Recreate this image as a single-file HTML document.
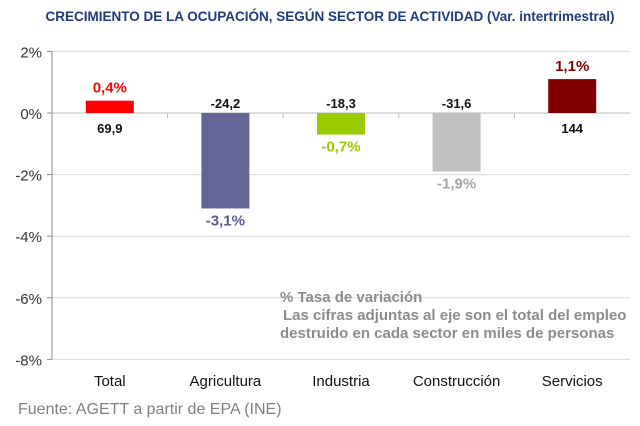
<!DOCTYPE html>
<html><head><meta charset="utf-8"><style>
body{margin:0;background:#fff;width:640px;height:421px;overflow:hidden;font-family:"Liberation Sans",sans-serif}
</style></head><body>
<svg width="640" height="421" font-family="Liberation Sans, sans-serif">
<text x="330" y="21" text-anchor="middle" font-size="13.5" font-weight="bold" fill="#1f3a7a">CRECIMIENTO DE LA OCUPACIÓN, SEGÚN SECTOR DE ACTIVIDAD (Var. intertrimestral)</text>
<g id="grid"></g><g id="bars"></g><g id="labels"></g>
<text x="280" y="302" font-size="15" font-weight="bold" fill="#8c8c8c">% Tasa de variación</text>
<text x="283" y="320" font-size="15" font-weight="bold" fill="#8c8c8c">Las cifras adjuntas al eje son el total del empleo</text>
<text x="280" y="338" font-size="15" font-weight="bold" fill="#8c8c8c">destruido en cada sector en miles de personas</text>
<text x="18" y="414" font-size="16" fill="#7f7f7f">Fuente: AGETT a partir de EPA (INE)</text>
</svg>
<script>
const categories=["Total","Agricultura","Industria","Construcción","Servicios"];
const values=[0.4,-3.1,-0.7,-1.9,1.1];
const valueLabels=["0,4%","-3,1%","-0,7%","-1,9%","1,1%"];
const employment=["69,9","-24,2","-18,3","-31,6","144"];
const ticks=[2,0,-2,-4,-6,-8];
const colors=["#ff0000","#646496","#99cc00","#c0c0c0","#800000"];
const labelColors=["#ff0000","#5a5a96","#99cc00","#a6a6a6","#800000"];
const NS="http://www.w3.org/2000/svg";
const x0=52,x1=630,bw=(x1-x0)/categories.length;
const y=v=>113-v*30.8;
const xc=i=>x0+bw*(i+0.5);
function mk(t,a,p,txt){const e=document.createElementNS(NS,t);for(const k in a)e.setAttribute(k,a[k]);if(txt!==undefined)e.textContent=txt;document.getElementById(p).appendChild(e);return e;}
ticks.forEach(t=>{
const g=mk("line",{x1:x0,x2:x1,y1:y(t),y2:y(t),stroke:"#d9d9d9","stroke-width":1},"grid");


const tk=mk("line",{x1:x0-5,x2:x0,y1:y(t),y2:y(t),stroke:"#888"},"grid");


const l=mk("text",{x:x0-10,y:y(t)+6,"text-anchor":"end","font-size":"15",fill:"#333"},"grid",t+"%");


});
const ax=mk("line",{x1:x0,x2:x0,y1:y(2),y2:y(-8),stroke:"#888"},"grid");


const zx=mk("line",{x1:x0,x2:x1,y1:y(0),y2:y(0),stroke:"#bbb"},"grid");


categories.forEach((c,i)=>{
const v=values[i];
const r=mk("rect",{x:xc(i)-24,width:48,y:Math.min(y(v),y(0)),height:Math.abs(y(v)-y(0)),fill:colors[i]},"bars");


const pos=v>=0;
const vl=mk("text",{x:xc(i),y:pos?y(v)-8:y(v)+17,"text-anchor":"middle","font-size":"15","font-weight":"bold",fill:labelColors[i]},"labels",valueLabels[i]);


const el=mk("text",{x:xc(i),y:pos?y(0)+20:y(0)-5,"text-anchor":"middle","font-size":"13","font-weight":"bold",fill:"#111"},"labels",employment[i]);


const cl=mk("text",{x:xc(i),y:386,"text-anchor":"middle","font-size":"15",fill:"#111"},"labels",c);


if(i>0){const t=mk("line",{x1:x0+bw*i,x2:x0+bw*i,y1:y(0),y2:y(0)+5,stroke:"#bbb"},"grid");

}
});
</script>
</body></html>
